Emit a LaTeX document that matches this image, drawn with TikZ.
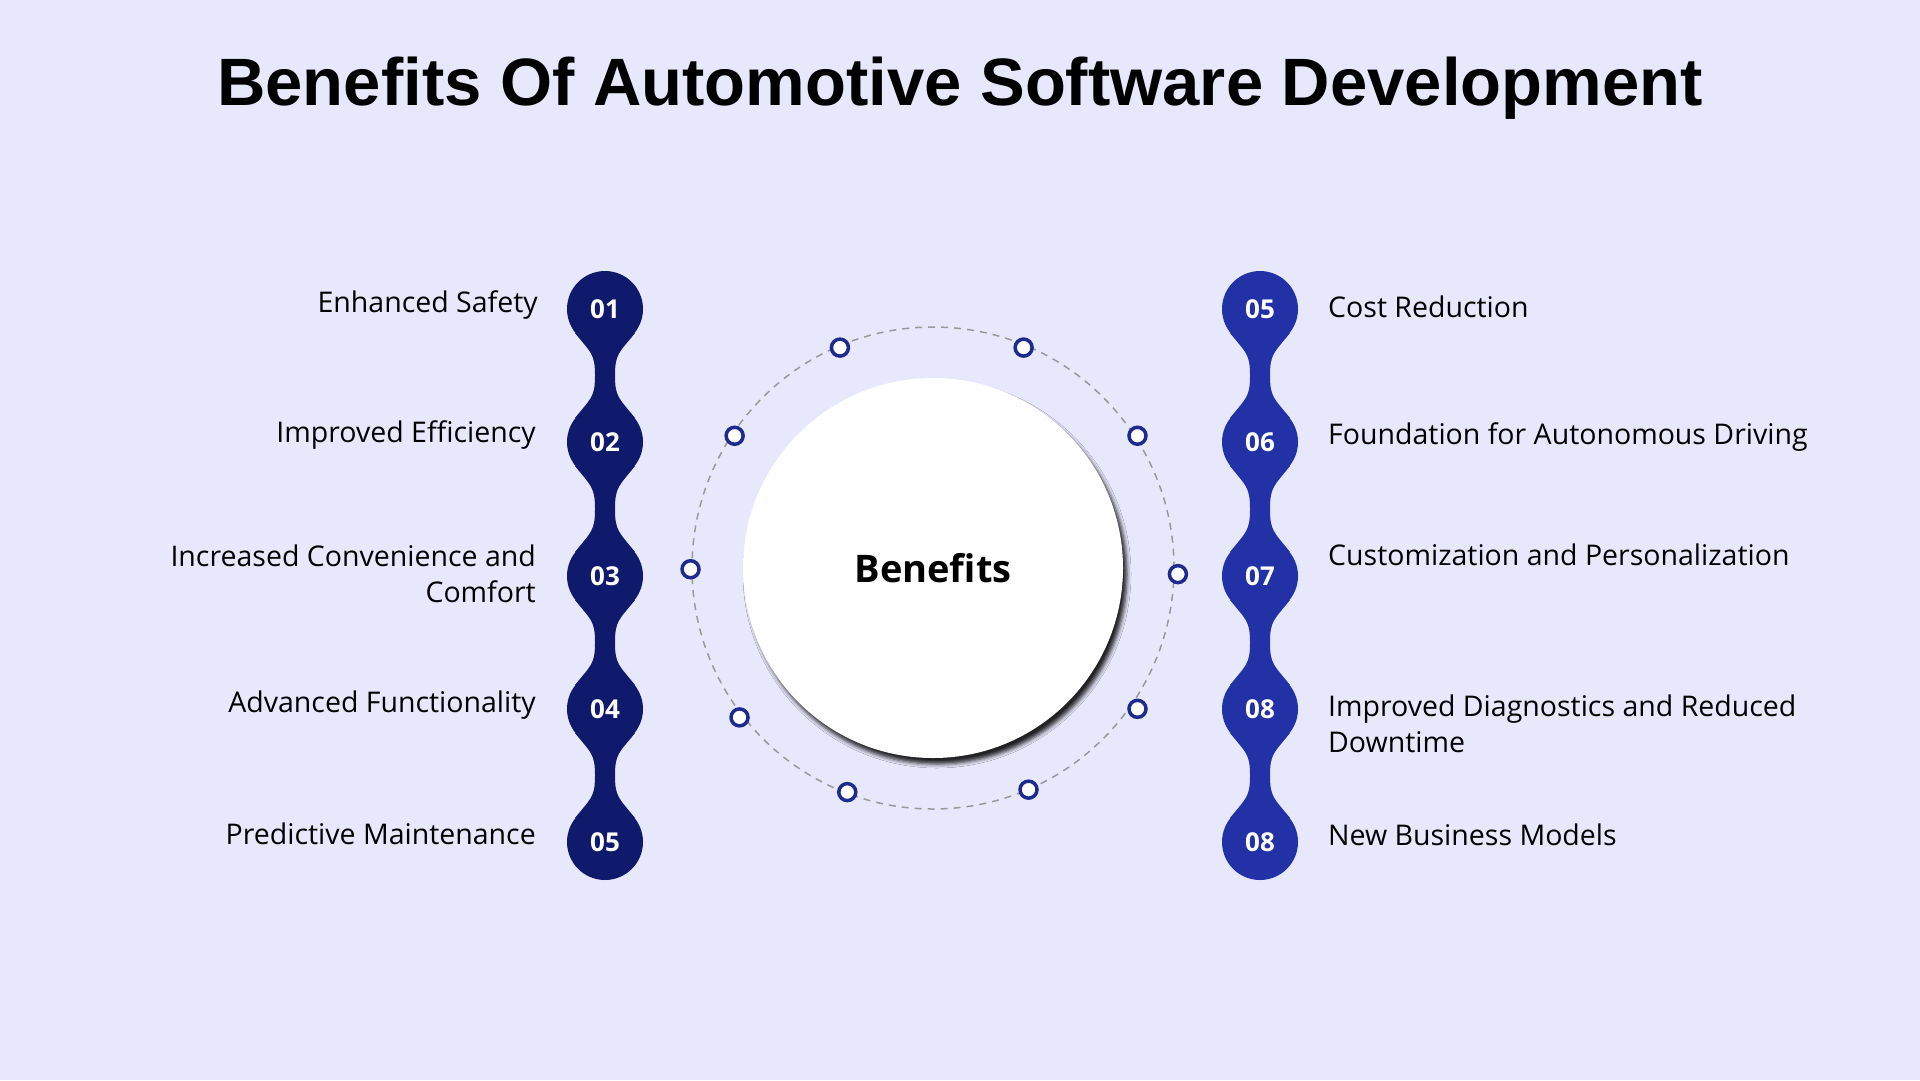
\documentclass[tikz,border=0pt]{standalone}
\usepackage{fontspec}
\setmainfont{Open Sans}
\newfontfamily\titlefont{Liberation Sans}
\usetikzlibrary{shadows.blur}
\definecolor{bg}{HTML}{E8E8FC}
\definecolor{navy}{HTML}{101A6C}
\definecolor{royal}{HTML}{2231A6}
\definecolor{ringc}{HTML}{1E2A8E}
\tikzset{
  num/.style={circle,minimum size=76pt,inner sep=0pt,text=white,font=\fontsize{26}{26}\selectfont\bfseries},
  lab/.style={font=\fontsize{28.5}{36}\selectfont,text=black,inner sep=0pt},
  dot/.style={circle,draw=ringc,line width=3.5pt,fill=white,minimum size=17pt,inner sep=0pt},
}
\newcommand{\chainlink}[4]{% x, y1, y2, color
  \pgfmathsetmacro{\mid}{(#2+#3)/2}
  \fill[#4] (#1-30,#2+24) .. controls (#1-14,#2+44) and (#1-10,\mid-22) .. (#1-10,\mid)
     .. controls (#1-10,\mid+22) and (#1-14,#3-44) .. (#1-30,#3-24)
     -- (#1+30,#3-24) .. controls (#1+14,#3-44) and (#1+10,\mid+22) .. (#1+10,\mid)
     .. controls (#1+10,\mid-22) and (#1+14,#2+44) .. (#1+30,#2+24) -- cycle;
}
\begin{document}
\begin{tikzpicture}[x=1pt,y=-1pt]
\fill[bg] (0,0) rectangle (1920,1080);
\useasboundingbox (0,0) rectangle (1920,1080);
\node[font=\titlefont\fontsize{67}{67}\selectfont\bfseries] (title) at (960,88) {Benefits Of Automotive Software Development};
\foreach \a/\b in {309/442,442/576,576/709,709/842}{\chainlink{605}{\a}{\b}{navy}\chainlink{1260}{\a}{\b}{royal}}
\foreach \n/\y/\t in {1/309/01,2/442/02,3/576/03,4/709/04,5/842/05}{
  \node[num,fill=navy] (L\n) at (605,\y) {\t};}
\foreach \n/\y/\t in {1/309/05,2/442/06,3/576/07,4/709/08,5/842/08}{
  \node[num,fill=royal] (R\n) at (1260,\y) {\t};}
% left labels
\node[lab,anchor=east] (l1) at (538,305) {Enhanced Safety};
\node[lab,anchor=east] (l2) at (536,435) {Improved Efficiency};
\node[lab,anchor=east,align=right] (l3) at (536,574) {Increased Convenience and\\Comfort};
\node[lab,anchor=east] (l4) at (536,705) {Advanced Functionality};
\node[lab,anchor=east] (l5) at (536,834) {Predictive Maintenance};
% right labels
\node[lab,anchor=west] (r1) at (1328,307) {Cost Reduction};
\node[lab,anchor=west] (r2) at (1328,437) {Foundation for Autonomous Driving};
\node[lab,anchor=west] (r3) at (1328,555) {Customization and Personalization};
\node[lab,anchor=west,align=left] (r4) at (1328,724) {Improved Diagnostics and Reduced\\Downtime};
\node[lab,anchor=west] (r5) at (1328,835) {New Business Models};
% ring
\draw[gray!80,dashed,dash pattern=on 7pt off 6pt,line width=1.5pt] (933,568) circle (241);
\node[circle,fill=white,minimum size=380pt,inner sep=0pt,blur shadow={shadow xshift=4pt,shadow yshift=-6pt,shadow blur radius=4pt,shadow opacity=85},
  font=\fontsize{38}{38}\selectfont\bfseries] (center) at (933,568) {Benefits};
\foreach \i/\x/\y in {1/686/284,2/836/284,3/929/356,4/962/469,5/929/579,6/840/645,7/692/647,8/604/586,9/564/465,10/600/356}{
  \node[dot] (d\i) at ({933+(\x-762)*1.2245},{568+(\y-464)*1.2245}) {};}
\end{tikzpicture}
\end{document}
